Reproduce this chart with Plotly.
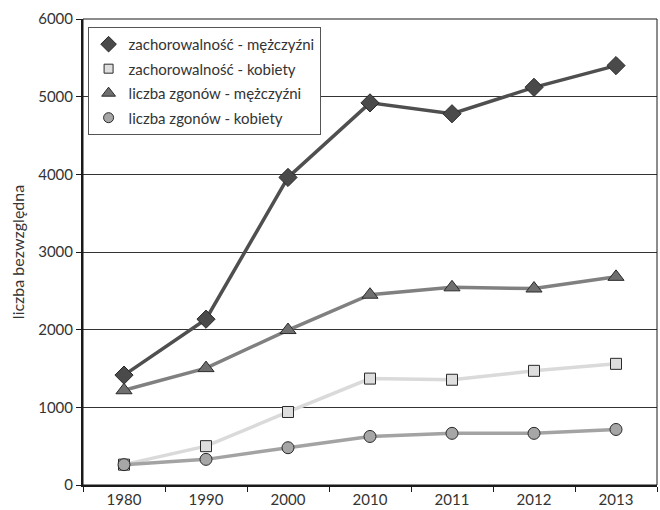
import plotly.graph_objects as go

# Lata (kategorie osi X)
years = ["1980", "1990", "2000", "2010", "2011", "2012", "2013"]

# Liczby bezwzględne
zach_m = [1415, 2135, 3960, 4920, 4780, 5120, 5400]
zach_k = [262, 500, 940, 1370, 1355, 1470, 1560]
zgony_m = [1220, 1505, 1995, 2450, 2545, 2530, 2680]
zgony_k = [262, 330, 480, 625, 665, 665, 715]

y_ticks = [0, 1000, 2000, 3000, 4000, 5000, 6000]

FONT = "Lato"
FSIZE = 15
TXT = "#333333"

series = [
    dict(name="zachorowalność - mężczyźni", y=zach_m, line="#4f4f4f",
         fill="#4a4a4a", symbol="diamond", size=14),
    dict(name="zachorowalność - kobiety", y=zach_k, line="#dadada",
         fill="#dedede", symbol="square", size=11),
    dict(name="liczba zgonów - mężczyźni", y=zgony_m, line="#808080",
         fill="#6f6f6f", symbol="triangle-up", size=14),
    dict(name="liczba zgonów - kobiety", y=zgony_k, line="#a3a3a3",
         fill="#a6a6a6", symbol="circle", size=12),
]

fig = go.Figure()

# Linie z markerami (bez wpisu w legendzie)
for s in series:
    fig.add_trace(go.Scatter(
        x=years, y=s["y"], mode="lines+markers", showlegend=False,
        line=dict(color=s["line"], width=3.5),
        marker=dict(symbol=s["symbol"], size=s["size"], color=s["fill"],
                    line=dict(color="#2a2a2a", width=1)),
        hoverinfo="x+y", name=s["name"],
    ))

# Wpisy legendy - same symbole
for i, s in enumerate(series):
    fig.add_trace(go.Scatter(
        x=[None], y=[None], mode="markers", name=s["name"],
        legendgroup=f"g{i}",
        marker=dict(symbol=s["symbol"], size=s["size"] - 2, color=s["fill"],
                    line=dict(color="#2a2a2a", width=1)),
    ))

fig.update_layout(
    width=660, height=510,
    margin=dict(l=83, r=3, t=19, b=25),
    paper_bgcolor="white", plot_bgcolor="white",
    font=dict(family=FONT, size=FSIZE, color=TXT),
    legend=dict(
        x=0.008, y=0.983, xanchor="left", yanchor="top",
        bgcolor="white", bordercolor="#555555", borderwidth=1,
        font=dict(family=FONT, size=FSIZE, color=TXT),
        tracegroupgap=2, itemwidth=30,
    ),
    xaxis=dict(
        type="category", range=[-0.5, 6.5],
        showline=True, linecolor="#1a1a1a", linewidth=2,
        ticks="outside", tickson="boundaries", ticklen=5,
        tickcolor="#1a1a1a", tickwidth=1,
        showgrid=False, zeroline=False,
        tickfont=dict(family=FONT, size=FSIZE, color=TXT),
    ),
    yaxis=dict(
        range=[0, 6000], tickvals=y_ticks,
        showline=True, linecolor="#1a1a1a", linewidth=2,
        ticks="outside", ticklen=5, tickcolor="#1a1a1a", tickwidth=1,
        showgrid=True, gridcolor="#333333", gridwidth=1,
        zeroline=False,
        tickfont=dict(family=FONT, size=FSIZE, color=TXT),
        title=dict(text="liczba bezwzględna", standoff=10,
                   font=dict(family=FONT, size=16, color=TXT)),
    ),
    shapes=[dict(type="rect", xref="paper", yref="paper", x0=0, x1=1,
                 y0=0, y1=1, line=dict(color="#1a1a1a", width=1),
                 layer="above")],
)

fig.write_html("out.html")
